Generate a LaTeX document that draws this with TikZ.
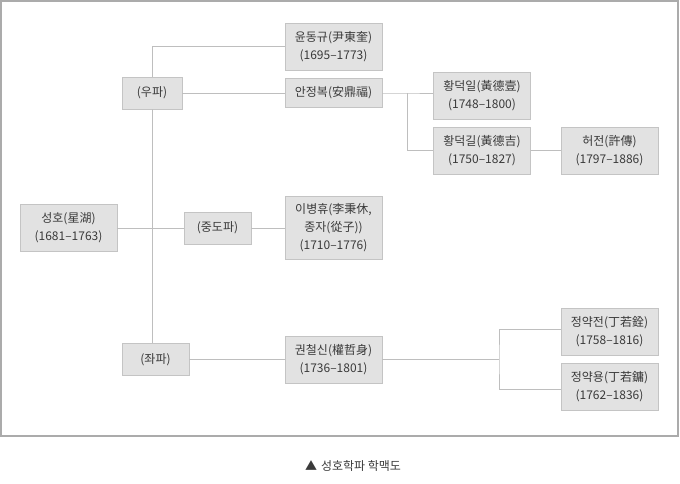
\documentclass[tikz,border=0pt]{standalone}
\usepackage{fontspec}
\setmainfont{Noto Sans CJK KR}
\definecolor{boxfill}{HTML}{E2E2E2}
\definecolor{boxline}{HTML}{C4C4C4}
\definecolor{linkgray}{HTML}{BEBEBE}
\definecolor{framegray}{HTML}{ABABAB}
\definecolor{txtgray}{HTML}{3A3A3A}
\begin{document}
\begin{tikzpicture}[x=1pt,y=-1pt,
  box/.style={draw=boxline, line width=0.9pt, fill=boxfill, text=txtgray, align=center,
    inner sep=0pt, minimum width=97, minimum height=47, font=\fontsize{12}{18}\selectfont},
  school/.style={box, minimum width=60, minimum height=32},
  link/.style={draw=linkgray, line width=0.9pt}]
\useasboundingbox (0,0) rectangle (680,483);
\draw[framegray, line width=1.2pt] (1,1) rectangle (678,436);
% teacher and the three schools
\node[box] (seongho) at (68.5,228) {성호(星湖)\\(1681–1763)};
\node[school] (upa) at (152,93) {(우파)};
\node[school, minimum width=67] (jungdo) at (217.5,228) {(중도파)};
\node[school, minimum width=67] (jwapa) at (155.5,359.5) {(좌파)};
% disciples
\node[box] (ydg) at (333.5,46.5) {윤동규(尹東奎)\\(1695–1773)};
\node[box, minimum height=29] (ajb) at (333.5,93) {안정복(安鼎福)};
\node[box, minimum height=63] (lbh) at (333.5,228) {이병휴(李秉休,\\종자(從子))\\(1710–1776)};
\node[box] (kcs) at (333.5,359.5) {권철신(權哲身)\\(1736–1801)};
\node[box] (hdi) at (482,95.5) {황덕일(黃德壹)\\(1748–1800)};
\node[box] (hdg) at (482,150.5) {황덕길(黃德吉)\\(1750–1827)};
\node[box] (hj) at (609.5,150.5) {허전(許傳)\\(1797–1886)};
\node[box] (jyj) at (609.5,331.5) {정약전(丁若銓)\\(1758–1816)};
\node[box] (jyy) at (609.5,386.5) {정약용(丁若鏞)\\(1762–1836)};
\coordinate (fork1) at (407,93);
\coordinate (fork2) at (499,359.5);
% connectors
\draw[link] (ydg.west) -| (upa.north);
\draw[link] (upa.south) -- (upa.south |- jwapa.north);
\draw[link] (seongho) -- (jungdo);
\draw[link] (upa) -- (ajb);
\draw[link] (jungdo) -- (lbh);
\draw[link] (jwapa) -- (kcs);
\draw[link] (ajb.east) -- (fork1) -- (hdi.west |- fork1);
\draw[link] (fork1) |- (hdg.west);
\draw[link] (hdg) -- (hj);
\draw[link] (kcs.east) -- (fork2);
\draw[link] ([yshift=2.5pt]jyj.west) -| (fork2) |- ([yshift=-2.5pt]jyy.west);
% caption
\node[text=txtgray, font=\fontsize{12}{14}\selectfont] (caption) at (353,466) {▲\hspace{4pt}성호학파 학맥도};
\end{tikzpicture}
\end{document}
